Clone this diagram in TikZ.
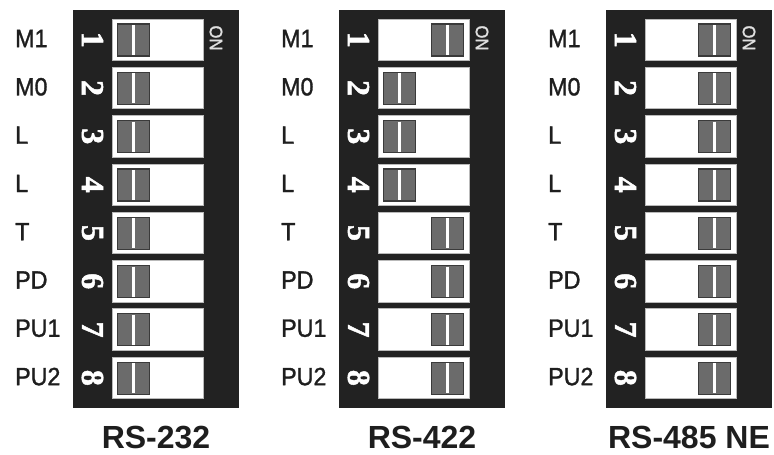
\documentclass[tikz,border=0pt]{standalone}
\usepackage{fontspec}
\setmainfont{Liberation Sans}
\newfontfamily\digitfont[FakeBold=1.5]{Liberation Serif Bold}
\newfontfamily\labelfont[FakeStretch=0.93,FakeBold=1.2]{Liberation Sans}
\definecolor{panelblack}{HTML}{222222}
\definecolor{knobgray}{HTML}{6B6B6B}
\definecolor{knobedge}{HTML}{3A3A3A}
\definecolor{labelgray}{HTML}{1E1E1E}
\newcommand{\dippanel}[4]{%
  % #1 name, #2 left x, #3 states, #4 title
  \fill[panel] (#2,10) rectangle ++(166,398);
  \node[ontext] (#1on) at (#2+143,38) {ON};
  \foreach \s [count=\i] in {#3} {
    \pgfmathsetmacro{\top}{19+48.3*(\i-1)}
    \pgfmathsetmacro{\mid}{\top+20.75}
    \pgfmathsetmacro{\kx}{#2+39+5.5+48*\s}
    \draw[slotbox] (#2+39.5,\top) rectangle ++(91,41.5);
    \draw[knob] (\kx,\top+5) rectangle ++(32,32);
    \draw[knobline] (\kx+16,\top+6) -- (\kx+16,\top+36);
    \node[digit] (#1d\i) at (#2+19.5,\mid) {\i};
  }
  \foreach \t [count=\i] in {M1,M0,L,L,T,PD,PU1,PU2} {
    \pgfmathsetmacro{\mid}{19+48.3*(\i-1)+19.5}
    \node[sidelabel] (#1l\i) at (#2-58,\mid) {\t};
  }
  \node[title] (#1title) at (#2+83,448) {#4};
}
\begin{document}
\begin{tikzpicture}[x=1pt,y=-1pt,
  panel/.style={fill=panelblack},
  slotbox/.style={fill=white,draw=gray!55,line width=0.7pt},
  knob/.style={fill=knobgray,draw=knobedge,line width=1.2pt},
  knobline/.style={draw=white,line width=2.6pt},
  digit/.style={rotate=-90,inner sep=0pt,text=white,font=\digitfont\fontsize{32}{32}\selectfont},
  ontext/.style={rotate=-90,inner sep=0pt,text=gray!25,font=\labelfont\fontsize{18}{18}\selectfont},
  sidelabel/.style={anchor=west,inner sep=0pt,text=labelgray,font=\labelfont\fontsize{25}{25}\selectfont},
  title/.style={anchor=base,inner sep=0pt,text=labelgray,font=\bfseries\fontsize{32}{32}\selectfont}]
\useasboundingbox (0,0) rectangle (774,455);
\fill[white] (0,0) rectangle (774,455);
\dippanel{a}{73}{0,0,0,0,0,0,0,0}{RS-232}
\dippanel{b}{339}{1,0,0,0,1,1,1,1}{RS-422}
\dippanel{c}{606}{1,1,1,1,1,1,1,1}{RS-485 NE}
\end{tikzpicture}
\end{document}
